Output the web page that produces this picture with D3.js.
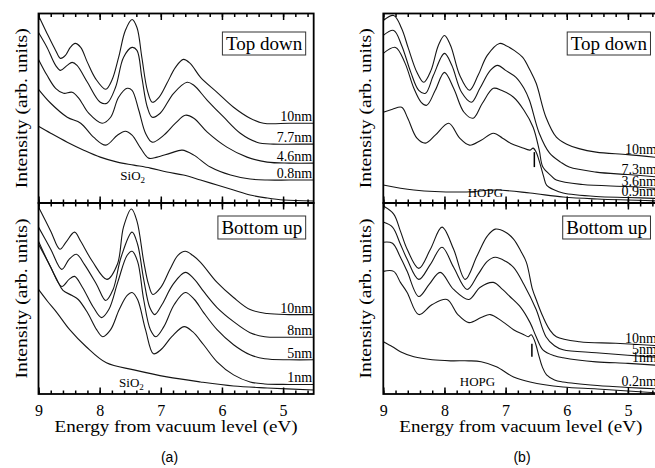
<!DOCTYPE html>
<html>
  <head>
    <meta charset="UTF-8">
    <title>Spectra</title>
    <script src="https://d3js.org/d3.v7.min.js"></script>
    <style>
      body { margin: 0; background: #fff; }
      svg text { font-family: "Liberation Serif", "Times New Roman", Times, serif; fill: #000; }
      svg text.sans { font-family: "Liberation Sans", Arial, Helvetica, sans-serif; }
    </style>
  </head>

  <body>
    <div class="chart"></div>

    <script type="application/javascript">
      // x axis: energy from vacuum level (eV), reversed
      const energyTicks = [9, 8, 7, 6, 5];
      const minorTicks = d3.range(23, 46).map(i => i / 5);

      // (a) top down on SiO2  [energy, intensity]
      const aTop10 = [[9.0,188],[8.86,170],[8.72,153],[8.64,145],[8.56,148],[8.48,156],[8.40,160],[8.31,156],[8.20,141],[8.07,125],[7.90,114],[7.80,123],[7.69,146],[7.58,173],[7.47,184],[7.39,176],[7.31,146],[7.22,113],[7.14,101],[7.03,106],[6.90,120],[6.76,136],[6.63,144],[6.52,140],[6.35,126],[6.08,111],[5.81,96],[5.54,85],[5.32,80],[4.9,80],[4.5,80]];
      const aTop77 = [[9.0,171],[8.86,156],[8.72,138],[8.64,133],[8.53,138],[8.45,141],[8.37,138],[8.20,121],[7.99,101],[7.88,100],[7.74,116],[7.61,146],[7.47,156],[7.39,153],[7.31,126],[7.22,96],[7.14,86],[7.01,90],[6.79,110],[6.57,121],[6.46,118],[6.24,103],[5.97,86],[5.70,70],[5.43,61],[5.16,59],[4.8,59],[4.5,59]];
      const aTop46 = [[9.0,144],[8.86,128],[8.72,115],[8.59,110],[8.45,111],[8.34,105],[8.18,90],[7.96,80],[7.82,86],[7.69,106],[7.55,115],[7.47,113],[7.36,93],[7.25,70],[7.14,61],[6.95,68],[6.76,80],[6.60,88],[6.46,85],[6.24,71],[5.92,56],[5.59,46],[5.26,41],[4.9,40],[4.5,40]];
      const aTop08 = [[9.0,114],[8.80,100],[8.53,86],[8.31,80],[8.10,66],[7.90,58],[7.71,68],[7.58,72],[7.47,68],[7.33,55],[7.20,45],[7.06,46],[6.84,50],[6.65,53],[6.46,48],[6.19,36],[5.86,28],[5.54,24],[5.26,23],[4.9,23],[4.5,23]];
      const aTopSiO2 = [[9.0,77],[8.80,70],[8.53,61],[8.26,53],[7.99,46],[7.71,41],[7.44,38],[7.17,35],[6.90,31],[6.63,28],[6.35,23],[6.08,18],[5.81,13],[5.54,8],[5.26,5],[4.99,3],[4.5,2]];
      const aTopNames = ["10nm", "7.7nm", "4.6nm", "0.8nm"];

      // (a) bottom up on SiO2
      const aBot10 = [[9.0,186],[8.80,162],[8.65,144],[8.55,151],[8.41,161],[8.31,152],[8.12,132],[7.88,114],[7.71,129],[7.61,166],[7.48,184],[7.39,172],[7.28,132],[7.20,109],[7.13,99],[7.00,106],[6.85,124],[6.72,138],[6.60,142],[6.48,138],[6.35,131],[6.08,111],[5.81,96],[5.54,84],[5.26,80],[4.9,79],[4.5,79]];
      const aBot8 = [[9.0,166],[8.80,144],[8.62,124],[8.50,134],[8.38,139],[8.25,129],[8.05,109],[7.90,93],[7.78,104],[7.65,136],[7.47,161],[7.38,149],[7.28,114],[7.18,86],[7.10,79],[6.98,89],[6.80,109],[6.60,121],[6.45,114],[6.30,102],[6.08,86],[5.81,72],[5.54,61],[5.30,57],[4.9,56.5],[4.5,56.5]];
      const aBot5 = [[9.0,152],[8.80,126],[8.62,107],[8.50,114],[8.41,117],[8.28,106],[8.10,86],[7.97,76],[7.85,84],[7.70,112],[7.55,138],[7.47,142],[7.38,132],[7.28,94],[7.17,64],[7.08,57],[6.95,67],[6.78,89],[6.60,101],[6.45,94],[6.30,81],[6.08,64],[5.81,49],[5.54,39],[5.30,35],[4.9,34],[4.5,34]];
      const aBot1 = [[9.0,149],[8.85,132],[8.70,114],[8.60,103],[8.45,98],[8.35,94],[8.20,81],[8.05,64],[7.95,57],[7.82,64],[7.68,84],[7.55,98],[7.47,101],[7.38,94],[7.25,64],[7.12,40],[7.00,44],[6.82,57],[6.62,67],[6.48,62],[6.30,49],[6.08,32],[5.81,19],[5.54,12],[5.30,10],[4.9,9.5],[4.5,9.5]];
      const aBotSiO2 = [[9.0,104],[8.85,92],[8.70,81],[8.49,64],[8.22,47],[7.89,31],[7.44,24],[6.90,17],[6.35,12],[5.81,8],[5.26,6],[4.5,4]];
      const aBotNames = ["10nm", "8nm", "5nm", "1nm"];

      // (b) top down on HOPG
      const bTop10 = [[9.0,183],[8.83,188],[8.70,175],[8.59,155],[8.45,131],[8.34,121],[8.22,133],[8.10,158],[8.00,168],[7.90,158],[7.75,128],[7.59,113],[7.45,128],[7.30,148],[7.10,160],[7.00,158],[6.86,153],[6.72,146],[6.60,133],[6.50,120],[6.34,86],[6.17,66],[6.00,59],[5.80,54.5],[5.52,51],[5.00,48.5],[4.5,45.5]];
      const bTop73 = [[9.0,168],[8.83,173],[8.70,158],[8.55,131],[8.42,113],[8.31,110],[8.18,128],[8.00,150],[7.88,138],[7.72,111],[7.56,101],[7.42,115],[7.25,133],[7.13,138],[7.00,133],[6.83,126],[6.70,115],[6.61,103],[6.45,70],[6.28,50],[6.10,41],[5.96,36],[5.52,31],[5.00,28.5],[4.5,26]];
      const bTop36 = [[9.0,150],[8.80,156],[8.65,141],[8.50,115],[8.38,101],[8.29,98],[8.15,113],[8.00,131],[7.85,115],[7.68,91],[7.53,85],[7.38,100],[7.20,115],[7.07,113],[6.87,106],[6.70,93],[6.55,76],[6.45,53],[6.39,36],[6.25,27],[6.17,23],[5.74,18.5],[5.00,16.5],[4.5,14.5]];
      const bTop09 = [[9.0,91],[8.85,94],[8.70,96],[8.60,85],[8.45,65],[8.31,60],[8.15,68],[7.93,80],[7.75,65],[7.59,58],[7.40,63],[7.20,70],[7.05,65],[6.92,60],[6.75,56],[6.60,53],[6.55,55],[6.50,51],[6.44,40],[6.38,27],[6.33,18],[6.20,13],[6.06,10],[5.52,6.5],[5.00,5.5],[4.5,4.5]];
      const bTopHOPG = [[9.0,18],[8.50,13],[7.69,11],[7.15,13],[6.60,10],[6.06,6],[5.50,4],[4.5,2]];
      const bTopNames = ["10nm", "7.3nm", "3.6nm", "0.9nm"];

      // (b) bottom up on HOPG
      const bBot10 = [[9.0,187],[8.83,179],[8.72,162],[8.61,144],[8.42,125],[8.23,144],[8.04,166],[7.85,144],[7.66,114],[7.47,137],[7.30,157],[7.17,164],[7.00,161],[6.87,154],[6.75,142],[6.66,131],[6.56,104],[6.50,94],[6.39,77],[6.28,64],[6.17,57],[5.79,52],[5.20,50.5],[4.5,48]];
      const bBot5 = [[9.0,171],[8.85,166],[8.72,149],[8.61,134],[8.42,114],[8.23,129],[8.04,146],[7.85,126],[7.63,104],[7.45,119],[7.30,132],[7.17,136],[7.00,132],[6.87,126],[6.70,109],[6.50,84],[6.34,57],[6.20,48],[6.06,44],[5.52,41],[5.00,38.5],[4.5,36.5]];
      const bBot1 = [[9.0,151],[8.85,150],[8.72,136],[8.61,122],[8.42,97],[8.25,109],[8.07,121],[7.85,104],[7.60,94],[7.42,106],[7.20,111],[7.05,104],[6.93,97],[6.75,86],[6.60,71],[6.50,57],[6.39,44],[6.20,38],[6.06,36],[5.52,32],[5.00,30.5],[4.5,28.5]];
      const bBot02 = [[9.0,122],[8.83,122],[8.72,111],[8.61,101],[8.42,79],[8.20,89],[7.96,94],[7.78,79],[7.60,71],[7.40,76],[7.25,79],[7.05,72],[6.87,64],[6.70,59],[6.63,57],[6.58,59],[6.52,52],[6.46,39],[6.40,27],[6.33,19],[6.20,14],[6.06,12],[5.50,8.5],[5.00,6.5],[4.5,5]];
      const bBotHOPG = [[9.0,52],[8.85,47],[8.72,42],[8.50,37],[8.20,34],[7.90,33],[7.60,33],[7.40,32],[7.15,27],[6.87,17],[6.60,12],[6.06,7],[5.50,5],[4.5,1]];
      const bBotNames = ["10nm", "5nm", "1nm", "0.2nm"];

      const boxTitles = ["Top down", "Bottom up"];
      const colTags = ["(a)", "(b)"];

      const panels = [
        {col: 0, row: 0, curves: [aTop10, aTop77, aTop46, aTop08], names: aTopNames, base: aTopSiO2, baseName: "SiO", baseSub: "2", baseAt: [7.46, 23]},
        {col: 0, row: 1, curves: [aBot10, aBot8, aBot5, aBot1], names: aBotNames, base: aBotSiO2, baseName: "SiO", baseSub: "2", baseAt: [7.48, 7]},
        {col: 1, row: 0, curves: [bTop10, bTop73, bTop36, bTop09], names: bTopNames, base: bTopHOPG, baseName: "HOPG", baseSub: "", baseAt: [7.33, 6], mark: [6.53, 36, 51]},
        {col: 1, row: 1, curves: [bBot10, bBot5, bBot1, bBot02], names: bBotNames, base: bBotHOPG, baseName: "HOPG", baseSub: "", baseAt: [7.46, 8], mark: [6.57, 37, 50]}
      ];

      const SERIF = '"Liberation Serif", "Times New Roman", Times, serif';
      const W = 655, H = 468;
      const cols = [{left: 38.5, tagX: 169.5}, {left: 383.3, tagX: 522}];
      const rows = [{top: 13.5, bottom: 203, boxTop: 32}, {top: 203, bottom: 394, boxTop: 216}];
      const pxPerEv = 61.15;

      // value of a curve at energy e (for placing its label)
      function valueAt(cv, e) {
        for (let i = 1; i < cv.length; i++) {
          if (cv[i][0] <= e) {
            const t = (cv[i - 1][0] - e) / (cv[i - 1][0] - cv[i][0]);
            return cv[i - 1][1] + t * (cv[i][1] - cv[i - 1][1]);
          }
        }
        return cv[cv.length - 1][1];
      }

      const svg = d3.select(".chart").append("svg")
        .attr("width", W).attr("height", H)
        .attr("font-family", SERIF)
        .style("display", "block");

      panels.forEach(p => {
        const c = cols[p.col], r = rows[p.row];
        const x = d3.scaleLinear().domain([9, 4.5]).range([c.left, c.left + 4.5 * pxPerEv]);
        const y = d3.scaleLinear().domain([0, 190]).range([r.bottom, r.top]);
        const g = svg.append("g");

        const line = d3.line()
          .x(d => x(d[0])).y(d => y(d[1]))
          .curve(d3.curveCatmullRom.alpha(0.5));

        p.curves.concat([p.base]).forEach(cv => {
          g.append("path").attr("d", line(cv))
            .attr("fill", "none").attr("stroke", "#151515").attr("stroke-width", 1.1);
        });

        // thickness labels sitting on the right end of each curve
        p.curves.forEach((cv, i) => {
          g.append("text")
            .attr("x", x(4.5) - 1.5).attr("y", y(valueAt(cv, 4.75)) - 2)
            .attr("text-anchor", "end").attr("font-size", 14)
            .style("font-family", SERIF)
            .text(p.names[i]);
        });

        // substrate label
        const bt = g.append("text")
          .attr("x", x(p.baseAt[0])).attr("y", y(p.baseAt[1]))
          .attr("text-anchor", "middle").attr("font-size", 13)
          .style("font-family", SERIF)
          .text(p.baseName);
        if (p.baseSub) {
          bt.append("tspan").attr("font-size", 9).attr("dy", 3).text(p.baseSub);
        }

        if (p.mark) {
          g.append("line")
            .attr("x1", x(p.mark[0])).attr("x2", x(p.mark[0]))
            .attr("y1", y(p.mark[1])).attr("y2", y(p.mark[2]))
            .attr("stroke", "#000").attr("stroke-width", 1.5);
        }

        // frame
        g.append("rect")
          .attr("x", x(9)).attr("y", r.top)
          .attr("width", x(4.5) - x(9)).attr("height", r.bottom - r.top)
          .attr("fill", "none").attr("stroke", "#000").attr("stroke-width", 1.8);

        // inward ticks on top and bottom edges
        [[d3.axisTop, r.top], [d3.axisBottom, r.bottom]].forEach(([ax, yy]) => {
          [[energyTicks, 6.5], [minorTicks, 3.5]].forEach(([vals, len]) => {
            const a = g.append("g").attr("transform", `translate(0,${yy})`)
              .call(ax(x).tickValues(vals).tickSize(-len).tickFormat(""));
            a.select(".domain").remove();
            a.selectAll("line").attr("stroke", "#000").attr("stroke-width", 1.5);
          });
        });

        // boxed title
        const bx = x(4.5) - 8;
        const tt = g.append("text")
          .attr("x", bx - 3.5).attr("y", r.boxTop + 17.5)
          .attr("text-anchor", "end").attr("font-size", 19)
          .style("font-family", SERIF)
          .text(boxTitles[p.row]);
        const tw = tt.node().getComputedTextLength();
        g.append("rect")
          .attr("x", bx - tw - 7).attr("y", r.boxTop)
          .attr("width", tw + 7).attr("height", 23)
          .attr("fill", "none").attr("stroke", "#333").attr("stroke-width", 1);

        // y title
        g.append("text")
          .attr("transform", `translate(${c.left - 12},${(r.top + r.bottom) / 2}) rotate(-90)`)
          .attr("text-anchor", "middle").attr("font-size", 17)
          .attr("textLength", 160).attr("lengthAdjust", "spacingAndGlyphs")
          .style("font-family", SERIF)
          .text("Intensity (arb. units)");

        if (p.row === 1) {
          const lab = g.append("g").attr("transform", `translate(0,${r.bottom})`)
            .call(d3.axisBottom(x).tickValues(energyTicks).tickSize(0).tickPadding(11).tickFormat(d3.format("d")));
          lab.select(".domain").remove();
          lab.selectAll("text").attr("font-size", 16).attr("fill", "#000")
            .style("font-family", SERIF);

          g.append("text")
            .attr("x", (x(9) + x(4.5)) / 2).attr("y", 432)
            .attr("text-anchor", "middle").attr("font-size", 17)
            .attr("textLength", 243).attr("lengthAdjust", "spacingAndGlyphs")
            .style("font-family", SERIF)
            .text("Energy from vacuum level (eV)");

          g.append("text")
            .attr("class", "sans")
            .attr("x", c.tagX).attr("y", 462)
            .attr("text-anchor", "middle").attr("font-size", 14)
            .style("font-family", '"Liberation Sans", Arial, sans-serif')
            .text(colTags[p.col]);
        }
      });
    </script>
  </body>
</html>
